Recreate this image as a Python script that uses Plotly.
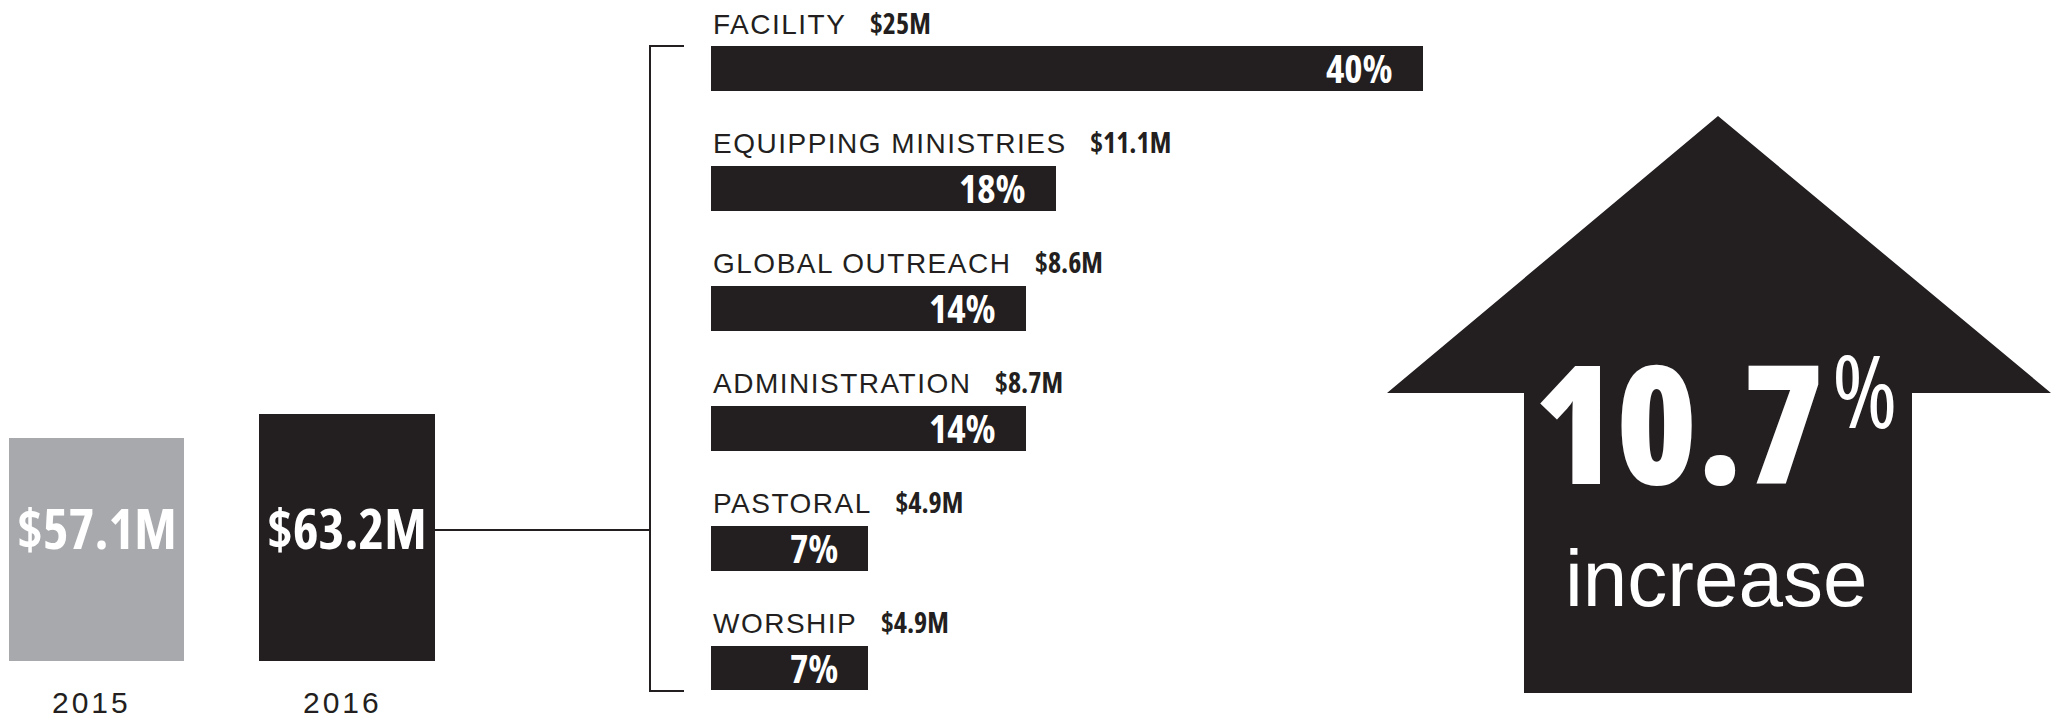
import plotly.graph_objects as go

# ---------------- data ----------------
years = ["2015", "2016"]
totals = [57.1, 63.2]
total_labels = ["$57.1M", "$63.2M"]

categories = ["FACILITY", "EQUIPPING MINISTRIES", "GLOBAL OUTREACH",
              "ADMINISTRATION", "PASTORAL", "WORSHIP"]
amount_labels = ["$25M", "$11.1M", "$8.6M", "$8.7M", "$4.9M", "$4.9M"]
share_labels = ["40%", "18%", "14%", "14%", "7%", "7%"]
# drawn bar lengths (percent scale)
bar_lengths = [40, 19.4, 17.7, 17.7, 8.8, 8.8]

increase_value = "10.7"
increase_word = "increase"

# ---------------- styling ----------------
W, H = 2062, 721
BLACK = "#231f20"
GREY = "#a7a9ac"
COND = "Open Sans, sans-serif"
REG = "Liberation Sans, Arial, Helvetica, sans-serif"


def px(x):
    return x / W


def py(y):
    return 1 - y / H


def cond(t, weight=700):
    return '<span style="font-stretch:75%%;font-weight:%d">%s</span>' % (weight, t)


fig = go.Figure()

# 2015 / 2016 totals
fig.add_trace(go.Bar(
    x=[0, 1], y=totals, width=0.70,
    marker=dict(color=[GREY, BLACK], line=dict(width=0)),
    xaxis="x", yaxis="y", hoverinfo="skip", showlegend=False))

# breakdown bars
fig.add_trace(go.Bar(
    x=bar_lengths, y=categories, orientation="h", width=0.375,
    marker=dict(color=BLACK, line=dict(width=0)),
    xaxis="x2", yaxis="y2", hoverinfo="skip", showlegend=False))

annotations = []
for i, lab in enumerate(total_labels):
    annotations.append(dict(
        x=i, xref="x", y=py(527), yref="paper", text=cond(lab), showarrow=False,
        xanchor="center", yanchor="middle",
        font=dict(family=COND, size=55, color="white")))
    annotations.append(dict(
        x=i, xref="x", xshift=-5, y=py(702), yref="paper",
        text='<span style="letter-spacing:3px">%s</span>' % years[i], showarrow=False,
        xanchor="center", yanchor="middle",
        font=dict(family=REG, size=30, color=BLACK)))

for i, (cat, amt, sh, ln) in enumerate(zip(categories, amount_labels, share_labels, bar_lengths)):
    annotations.append(dict(
        x=0, xref="x2", y=cat, yref="y2", yshift=46, showarrow=False,
        xanchor="left", yanchor="middle",
        text=('<span style="letter-spacing:1.5px">%s</span>&nbsp;&nbsp;&nbsp;'
              '<span style="font-family:Open Sans, sans-serif;font-stretch:75%%;'
              'font-weight:700;letter-spacing:0px">%s</span>') % (cat, amt),
        font=dict(family=REG, size=28, color=BLACK)))
    annotations.append(dict(
        x=ln, xref="x2", y=cat, yref="y2", xshift=-28, yshift=1, showarrow=False,
        xanchor="right", yanchor="middle", text=cond(sh),
        font=dict(family=COND, size=39, color="white")))

# big arrow text
annotations.append(dict(
    x=px(1826), xref="paper", y=py(420), yref="paper", text=cond(increase_value, 800),
    showarrow=False, xanchor="right", yanchor="middle",
    font=dict(family=COND, size=165, color="white")))
annotations.append(dict(
    x=px(1830), xref="paper", y=py(389), yref="paper", text=cond("%", 400),
    showarrow=False, xanchor="left", yanchor="middle",
    font=dict(family=COND, size=100, color="white")))
annotations.append(dict(
    x=px(1716), xref="paper", y=py(578), yref="paper", text=increase_word,
    showarrow=False, xanchor="center", yanchor="middle",
    font=dict(family=REG, size=80, color="white")))

line_style = dict(color=BLACK, width=2)
shapes = [
    # up arrow
    dict(type="path", xref="paper", yref="paper",
         path="M %f,%f L %f,%f L %f,%f L %f,%f L %f,%f L %f,%f L %f,%f Z" % (
             px(1718), py(116), px(2051), py(393), px(1912), py(393),
             px(1912), py(693), px(1524), py(693), px(1524), py(393),
             px(1387), py(393)),
         fillcolor=BLACK, line=dict(width=0), layer="below"),
    # connector + bracket
    dict(type="line", xref="paper", yref="paper", x0=px(435), x1=px(650),
         y0=py(530), y1=py(530), line=line_style),
    dict(type="line", xref="paper", yref="paper", x0=px(650), x1=px(650),
         y0=py(46), y1=py(691), line=line_style),
    dict(type="line", xref="paper", yref="paper", x0=px(649), x1=px(684),
         y0=py(46), y1=py(46), line=line_style),
    dict(type="line", xref="paper", yref="paper", x0=px(649), x1=px(684),
         y0=py(691), y1=py(691), line=line_style),
]

# scale of the totals panel: baseline at y=661px, 63.2 -> 414px
ppm = (661 - 414) / 63.2
# scale of breakdown panel: 40 units -> 712px, bars start at x=711px
ppu = 712 / 40
row_px = 119.9

fig.update_layout(
    width=W, height=H, autosize=False,
    margin=dict(l=0, r=0, t=0, b=0, pad=0),
    paper_bgcolor="white", plot_bgcolor="white",
    bargap=0, showlegend=False,
    xaxis=dict(domain=[0, px(500)], range=[-96.5 / 250.5, -96.5 / 250.5 + 500 / 250.5],
               visible=False, fixedrange=True, anchor="y"),
    yaxis=dict(domain=[0, 1], range=[-(H - 661) / ppm, 661 / ppm],
               visible=False, fixedrange=True, anchor="x"),
    xaxis2=dict(domain=[px(711), 1], range=[0, (W - 711) / ppu],
                visible=False, fixedrange=True, anchor="y2"),
    yaxis2=dict(domain=[0, 1], range=[(H - 68.5) / row_px, -68.5 / row_px],
                categoryorder="array", categoryarray=categories,
                visible=False, fixedrange=True, anchor="x2"),
    annotations=annotations,
    shapes=shapes,
)

fig.write_html("out.html", config={"displayModeBar": False},
               post_script="document.body.style.margin='0';")
